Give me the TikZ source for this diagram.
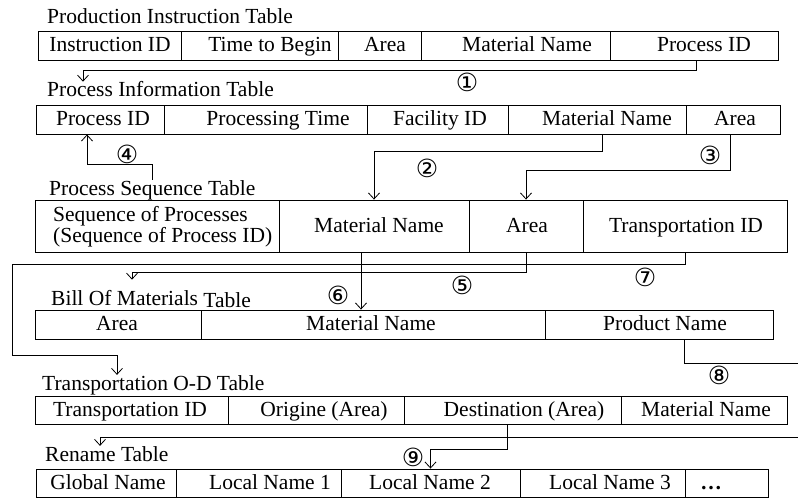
\documentclass[tikz,border=0pt]{standalone}
\usepackage{fontspec}
\setmainfont{Liberation Serif}
\newfontfamily\circfont{DejaVu Sans}
\usetikzlibrary{arrows.meta}
\tikzset{
 cellbox/.style={draw, line width=0.9pt, inner sep=0},
 celltext/.style={font=\fontsize{21.5}{23}\selectfont, inner sep=0, anchor=base},
 tabtitle/.style={font=\fontsize{21.5}{23}\selectfont, inner sep=0, anchor=base west},
 conn/.style={line width=0.8pt},
 arr/.style={conn, -{Straight Barb[length=6pt,width=11pt,line width=0.8pt]}},
 num/.style={font=\circfont\fontsize{25}{25}\selectfont, inner sep=0},
}
\newcommand\tcell[7]{%
  \node[cellbox, minimum width={(#3-#2)*1pt}, minimum height={(#5-#4)*1pt}] (#1) at ({(#2+#3)/2},{(#4+#5)/2}) {};
  \node[celltext] (#1t) at (#6,{(#4+#5)/2+6}) {#7};
}
\begin{document}
\begin{tikzpicture}[x=1pt,y=-1pt]
\useasboundingbox (0,0) rectangle (798,500);
% Table 1
\node[tabtitle] (t1title) at (47,24) {Production Instruction Table};
\tcell{t1a}{38}{181}{31}{60}{110}{Instruction ID}
\tcell{t1b}{181}{338}{31}{60}{270}{Time to Begin}
\tcell{t1c}{338}{421}{31}{60}{385}{Area}
\tcell{t1d}{421}{610}{31}{60}{527}{Material Name}
\tcell{t1e}{610}{778}{31}{60}{704}{Process ID}
% Table 2
\node[tabtitle] (t2title) at (47,97) {Process Information Table};
\tcell{t2a}{36}{164}{105}{134}{103}{Process ID}
\tcell{t2b}{164}{367}{105}{134}{278}{Processing Time}
\tcell{t2c}{367}{508}{105}{134}{440}{Facility ID}
\tcell{t2d}{508}{686}{105}{134}{607}{Material Name}
\tcell{t2e}{686}{780}{105}{134}{735}{Area}
% Table 3
\node[tabtitle] (t3title) at (49,195) {Process Sequence Table};
\node[cellbox, minimum width=244pt, minimum height=52pt] (t3a) at (157,226) {};
\node[font=\fontsize{21.5}{17.5}\selectfont, inner sep=0, align=left, anchor=west] (t3at) at (53,227) {Sequence of Processes\\(Sequence of Process ID)};
\tcell{t3b}{279}{469}{200}{252}{379}{Material Name}
\tcell{t3c}{469}{583}{200}{252}{527}{Area}
\tcell{t3d}{583}{787}{200}{252}{686}{Transportation ID}
% Table 4
\node[tabtitle] (t4title) at (51,305) {Bill Of Materials \raisebox{-2pt}{Table}};
\tcell{t4a}{35}{201}{310}{339}{117}{Area}
\tcell{t4b}{201}{545}{310}{339}{371}{Material Name}
\tcell{t4c}{545}{773}{310}{339}{665}{Product Name}
% Table 5
\node[tabtitle] (t5title) at (42,390) {Transportation O-D Table};
\tcell{t5a}{35}{228}{396}{424}{130}{Transportation ID}
\tcell{t5b}{228}{404}{396}{424}{324}{Origine (Area)}
\tcell{t5c}{404}{621}{396}{424}{524}{Destination (Area)}
\tcell{t5d}{621}{787}{396}{424}{706}{Material Name}
% Table 6
\node[tabtitle] (t6title) at (45,461) {Rename Table};
\tcell{t6a}{36}{176}{469}{497}{108}{Global Name}
\tcell{t6b}{176}{341}{469}{497}{270}{Local Name 1}
\tcell{t6c}{341}{520}{469}{497}{430}{Local Name 2}
\tcell{t6d}{520}{685}{469}{497}{610}{Local Name 3}
\tcell{t6e}{685}{768}{469}{497}{711}{\textbf{…}}
% helper coordinates
\coordinate (w7a) at (12,264);
\coordinate (w7b) at (12,355);
\coordinate (e8a) at (806,363);
\coordinate (e8b) at (806,437);
% connectors
\draw[arr] ([xshift=2]t1e.south) -- ++(0,10) -| ([xshift=36]t2title.north west);
\draw[arr] ([xshift=5]t2d.south) -- ++(0,17) -| (t3b.north);
\draw[arr] ([xshift=-3]t2e.south) -- ++(0,36) -| (t3c.north);
\draw[arr] ([xshift=103]t3title.north west) -- ++(0,-15) -| ([xshift=-13]t2a.south);
\draw[arr] (t3c.south) -- ++(0,20) -| ([xshift=81,yshift=10]t4title.north west);
\draw[arr] ([xshift=-13]t3b.south) -- ([xshift=-13]t3b.south |- t4b.north);
\draw[arr] (t3d.south) |- (w7a) -- (w7b) -| ([xshift=75]t5title.north west);
\draw[arr] ([xshift=25]t4c.south) |- (e8a) -- (e8b) -| ([xshift=55]t6title.north west);
\draw[arr] ([xshift=-5]t5c.south) -- ++(0,25) -| (t6c.north);
% labels
\node[num] (n1) at (467,82) {①};
\node[num] (n2) at (427,168) {②};
\node[num] (n3) at (710,155) {③};
\node[num] (n4) at (127,154) {④};
\node[num] (n5) at (462,285) {⑤};
\node[num] (n6) at (338,295) {⑥};
\node[num] (n7) at (645,277) {⑦};
\node[num] (n8) at (719,375) {⑧};
\node[num] (n9) at (413,457) {⑨};
\end{tikzpicture}
\end{document}
